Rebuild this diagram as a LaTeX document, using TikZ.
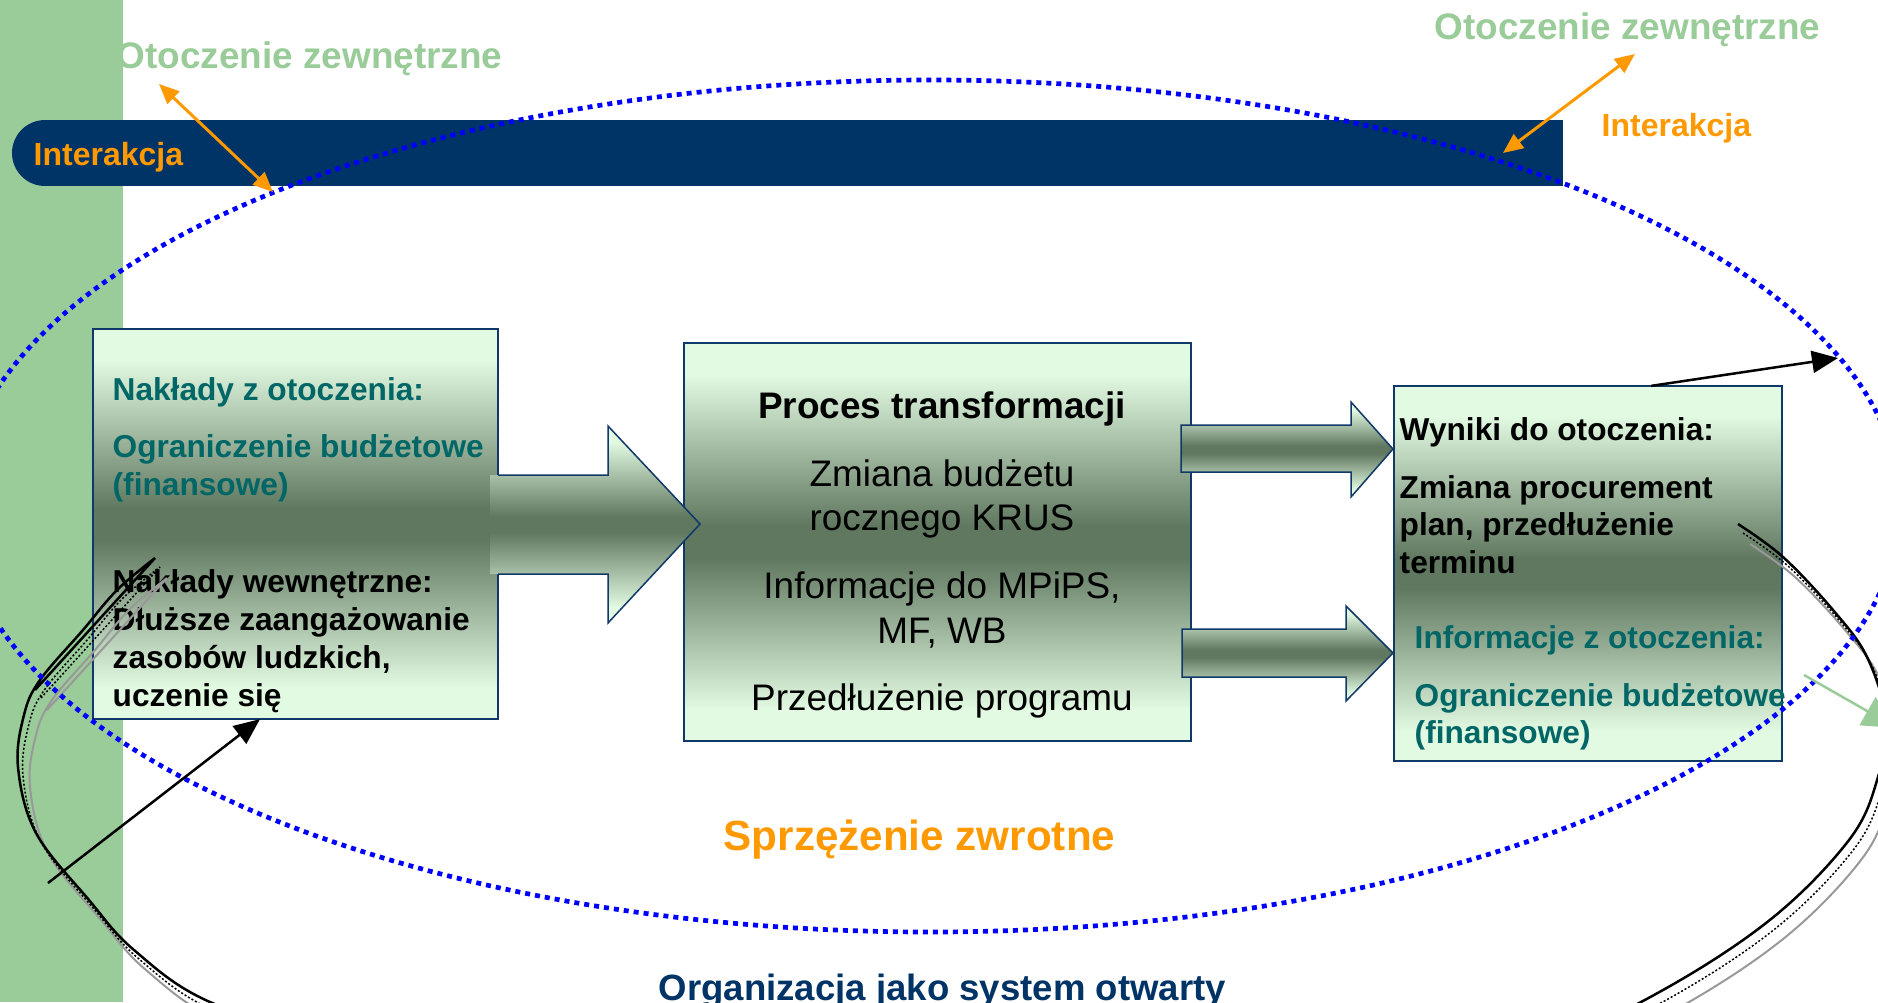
\documentclass[tikz,border=0pt]{standalone}
\usepackage{fontspec}
\setmainfont{Liberation Sans}
\usetikzlibrary{arrows.meta}
\definecolor{stripgreen}{RGB}{153,204,153}
\definecolor{barnavy}{RGB}{0,51,102}
\definecolor{interorange}{RGB}{255,153,0}
\definecolor{inputteal}{RGB}{0,102,102}
\definecolor{boxlight}{RGB}{225,250,225}
\definecolor{boxdark}{RGB}{95,120,95}
\definecolor{boxedge}{RGB}{16,56,104}
\definecolor{ringblue}{RGB}{0,0,255}
\pgfdeclareverticalshading{boxshade}{100bp}{color(0bp)=(boxlight); color(29bp)=(boxlight); color(48bp)=(boxdark); color(52bp)=(boxdark); color(71bp)=(boxlight); color(100bp)=(boxlight)}

\begin{document}
\begin{tikzpicture}[x=0.01cm,y=-0.01cm]
	\tikzset{sysbox/.style={draw=boxedge,line width=0.02cm,shade,shading=boxshade,inner sep=0,outer sep=0},
		arrowbody/.style={shade,shading=boxshade},
		arrowedge/.style={draw=boxedge,line width=0.015cm},
		envtext/.style={text=stripgreen,font=\bfseries\fontsize{10.5}{12}\selectfont,inner sep=0,anchor=base west},
		intertext/.style={text=interorange,font=\bfseries\fontsize{9.1}{11}\selectfont,inner sep=0,anchor=base west},
		boxtext/.style={font=\bfseries\fontsize{9}{11}\selectfont,inner sep=0,anchor=base west},
		proctext/.style={font=\fontsize{10.5}{12}\selectfont,inner sep=0,anchor=base},
		feedtext/.style={text=interorange,font=\bfseries\fontsize{12}{14}\selectfont,inner sep=0,anchor=base west},
		titletext/.style={text=barnavy,font=\bfseries\fontsize{10.4}{12}\selectfont,inner sep=0,anchor=base west},
		ringline/.style={ringblue,line width=0.047cm,dash pattern=on 0.05cm off 0.05cm},
		interarrow/.style={interorange,line width=0.03cm,arrows={Triangle[length=2mm,width=1.7mm]-Triangle[length=2mm,width=1.7mm]}},
		outarrow/.style={black,line width=0.025cm,arrows={-Triangle[length=2.6mm,width=2.2mm]}},
		infoarrow/.style={stripgreen,line width=0.025cm,arrows={-Triangle[length=3.4mm,width=3.2mm]}},
		mainloop/.style={black,line width=0.025cm},
		shadowloop/.style={black!40,line width=0.02cm},
		dotloop/.style={black,line width=0.015cm,dash pattern=on 0.02cm off 0.02cm}}
	\useasboundingbox (0,0) rectangle (1878,1002);
	\clip (0,0) rectangle (1878,1002);
	\fill[stripgreen] (0,0) rectangle (123,1002);
	\fill[barnavy] (45,120) rectangle (1563,186);
	\fill[barnavy] (45,153) circle[radius=33];
	\node[intertext] (interL) at (33,165) {Interakcja};
	\node[intertext] (interR) at (1601,136) {Interakcja};
	\node[envtext] (envL) at (116,68) {Otoczenie zewnętrzne};
	\node[envtext] (envR) at (1434,39) {Otoczenie zewnętrzne};
	\node[sysbox,minimum width=4.05cm,minimum height=3.9cm] (inbox) at (295.5,524) {};
	\node[sysbox,minimum width=5.07cm,minimum height=3.98cm] (proc) at (937.5,542) {};
	\node[sysbox,minimum width=3.88cm,minimum height=3.75cm] (outbox) at (1588,573.5) {};
	\path[arrowbody] (490,475) -- (608,475) -- (608,426) -- (700,524) -- (608,623) -- (608,574) -- (490,574) -- cycle;
	\path[arrowedge] (498,475) -- (608,475) -- (608,426) -- (700,524) -- (608,623) -- (608,574) -- (498,574);
	\path[arrowbody,arrowedge] (1181,425) -- (1351,425) -- (1351,402) -- (1393,449) -- (1351,497) -- (1351,472) -- (1181,472) -- cycle;
	\path[arrowbody,arrowedge] (1182,629) -- (1346,629) -- (1346,606) -- (1393,653) -- (1346,701) -- (1346,677) -- (1182,677) -- cycle;
	\foreach \txt/\yy [count=\i] in {Nakłady z otoczenia:/400, Ograniczenie budżetowe/457, (finansowe)/495}
		\node[boxtext,text=inputteal] (inA\i) at (112,\yy) {\txt};
	\foreach \txt/\yy [count=\i] in {Nakłady wewnętrzne:/592, Dłuższe zaangażowanie/630, {zasobów ludzkich,}/668, uczenie się/706}
		\node[boxtext] (inB\i) at (112,\yy) {\txt};
	\node[proctext,font=\bfseries\fontsize{10.5}{12}\selectfont] (procT) at (942,418) {Proces transformacji};
	\foreach \txt/\yy [count=\i] in {Zmiana budżetu/486, rocznego KRUS/530, {Informacje do MPiPS,}/598, {MF, WB}/643, Przedłużenie programu/710}
		\node[proctext] (procA\i) at (942,\yy) {\txt};
	\foreach \txt/\yy [count=\i] in {Wyniki do otoczenia:/440, Zmiana procurement/498, {plan, przedłużenie}/535, terminu/573}
		\node[boxtext] (outA\i) at (1399,\yy) {\txt};
	\foreach \txt/\yy [count=\i] in {Informacje z otoczenia:/648, Ograniczenie budżetowe/706, (finansowe)/743}
		\node[boxtext,text=inputteal] (outB\i) at (1414,\yy) {\txt};
	\foreach \loopsty/\dx/\dy in {shadowloop/12/20, dotloop/5/9, mainloop/0/0}
		\draw[\loopsty,shift={(\dx,\dy)}] plot[smooth,tension=0.6] coordinates {(1738,524) (1783,557) (1833,610) (1867,657) (1886,720) (1878,777) (1849,840) (1766,923) (1641,1002) (1480,1075) (1200,1115) (900,1115) (600,1090) (350,1045) (210,1002) (134,950) (89,900) (36,833) (18,767) (24,715) (40,680) (83,630) (117,590) (155,558)} -- (35,690);
	\draw[ringline] (930,506) ellipse[x radius=970,y radius=426];
	\coordinate (envLtip) at (159,84);
	\coordinate (ringLtip) at (273,192);
	\coordinate (envRtip) at (1635,54);
	\coordinate (ringRtip) at (1503,153);
	\draw[interarrow] (envLtip) -- (ringLtip);
	\draw[interarrow] (envRtip) -- (ringRtip);
	\coordinate (outtip) at (1838,358);
	\coordinate (loopfoot) at (48,883);
	\draw[outarrow] ([xshift=0.63cm]outbox.north) -- (outtip);
	\draw[outarrow] (loopfoot) -- ([xshift=-0.355cm]inbox.south);
	\coordinate (greenfoot) at (1804,675);
	\coordinate (greentip) at (1897,728);
	\draw[infoarrow] (greenfoot) -- (greentip);
	\node[feedtext] (feedback) at (723,850) {Sprzężenie zwrotne};
	\node[titletext] (title) at (658,1000) {Organizacja jako system otwarty};
\end{tikzpicture}
\end{document}
